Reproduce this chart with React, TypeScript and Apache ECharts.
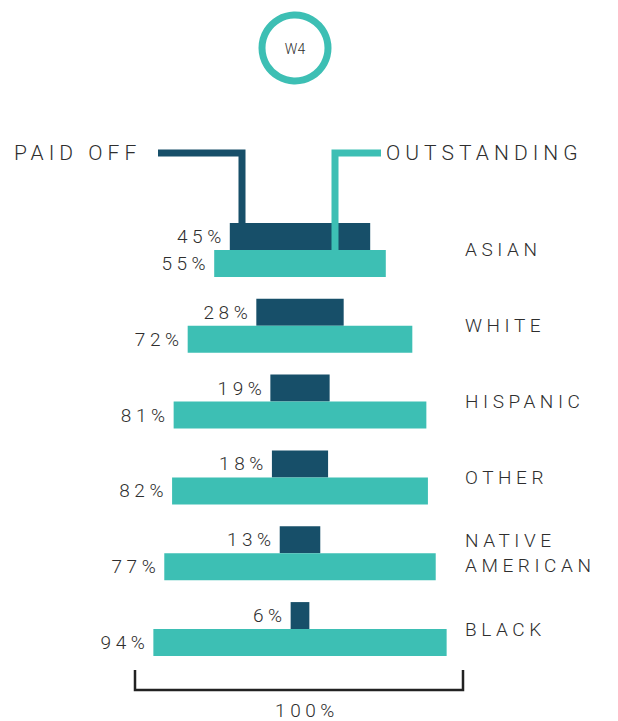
import React, { useEffect, useRef } from "react";
import * as echarts from "echarts";

const categories = ["ASIAN", "WHITE", "HISPANIC", "OTHER", "NATIVE\nAMERICAN", "BLACK"];
const paidOff = [45, 28, 19, 18, 13, 6];
const outstanding = [55, 72, 81, 82, 87, 94];
const paidOffLabels = ["45%", "28%", "19%", "18%", "13%", "6%"];
const outstandingLabels = ["55%", "72%", "81%", "82%", "77%", "94%"];
const legendNames = ["PAID OFF", "OUTSTANDING"];
const badge = "W4";
const totalLabel = "100%";

const DARK = "#174f69";
const TEAL = "#3dbfb4";
const TEXT = "#2e2e2e";
const FONT = "Roboto, 'Liberation Sans', sans-serif";

export default function App() {
  const ref = useRef<HTMLDivElement>(null);
  useEffect(() => {
    if (!ref.current) return;
    const chart = echarts.init(ref.current, undefined, { renderer: "svg" });
    const base = (v: number) => (100 - v) / 2;
    const labelStyle = {
      show: true,
      position: "left" as const,
      distance: 4,
      fontSize: 19,
      fontWeight: 300,
      fontFamily: FONT,
      color: TEXT,
    };
    chart.setOption({
      animation: false,
      grid: { left: 144, width: 312, top: 212, height: 455, containLabel: false },
      xAxis: { type: "value", min: 0, max: 100, show: false },
      yAxis: {
        type: "category",
        data: categories,
        inverse: true,
        position: "right",
        axisLine: { show: false },
        axisTick: { show: false },
        axisLabel: {
          margin: 9,
          align: "left",
          fontSize: 19,
          fontWeight: 300,
          fontFamily: FONT,
          color: TEXT,
          lineHeight: 25,
        },
        splitLine: { show: false },
      },
      series: [
        {
          type: "bar",
          stack: "paid",
          barWidth: 27,
          barGap: "0%",
          data: paidOff.map(base),
          itemStyle: { color: "transparent" },
          silent: true,
        },
        {
          type: "bar",
          stack: "paid",
          barWidth: 27,
          barGap: "0%",
          data: paidOff,
          itemStyle: { color: DARK },
          label: { ...labelStyle, formatter: (p: any) => paidOffLabels[p.dataIndex] },
        },
        {
          type: "bar",
          stack: "out",
          barWidth: 27,
          barGap: "0%",
          data: outstanding.map(base),
          itemStyle: { color: "transparent" },
          silent: true,
        },
        {
          type: "bar",
          stack: "out",
          barWidth: 27,
          barGap: "0%",
          data: outstanding,
          itemStyle: { color: TEAL },
          label: { ...labelStyle, formatter: (p: any) => outstandingLabels[p.dataIndex] },
        },
      ],
      graphic: [
        {
          type: "circle",
          shape: { cx: 295, cy: 48, r: 33 },
          style: { fill: "none", stroke: TEAL, lineWidth: 7 },
        },
        {
          type: "text",
          x: 295,
          y: 49,
          style: {
            text: badge,
            fill: TEXT,
            font: `300 14px ${FONT}`,
            textAlign: "center",
            textVerticalAlign: "middle",
          },
        },
        {
          type: "text",
          x: 14,
          y: 153,
          style: {
            text: legendNames[0],
            fill: TEXT,
            font: `300 21px ${FONT}`,
            textAlign: "left",
            textVerticalAlign: "middle",
          },
        },
        {
          type: "text",
          x: 386,
          y: 153,
          style: {
            text: legendNames[1],
            fill: TEXT,
            font: `300 21px ${FONT}`,
            textAlign: "left",
            textVerticalAlign: "middle",
          },
        },
        {
          type: "polyline",
          z: 100,
          shape: { points: [[158, 153], [242, 153], [242, 223]] },
          style: { stroke: DARK, lineWidth: 7, fill: "none" },
        },
        {
          type: "polyline",
          z: 100,
          shape: { points: [[381, 153], [335, 153], [335, 250]] },
          style: { stroke: TEAL, lineWidth: 7, fill: "none" },
        },
        {
          type: "polyline",
          z: 100,
          shape: { points: [[135, 670], [135, 690], [463, 690], [463, 670]] },
          style: { stroke: "#222", lineWidth: 2.5, fill: "none" },
        },
        {
          type: "text",
          x: 307,
          y: 710,
          style: {
            text: totalLabel,
            fill: TEXT,
            font: `300 19px ${FONT}`,
            textAlign: "center",
            textVerticalAlign: "middle",
          },
        },
      ],
    });
    const el = ref.current;
    const applySpacing = () => {
      el.querySelectorAll("text").forEach((t) => {
        (t as SVGTextElement).style.letterSpacing = t.textContent === badge ? "0" : "0.24em";
      });
    };
    applySpacing();
    chart.on("finished", applySpacing);
    const timer = setTimeout(applySpacing, 50);
    return () => {
      clearTimeout(timer);
      chart.dispose();
    };
  }, []);
  return (
    <div
      ref={ref}
      style={{ position: "absolute", left: 0, top: 0, width: 618, height: 721, background: "#fff" }}
    />
  );
}
